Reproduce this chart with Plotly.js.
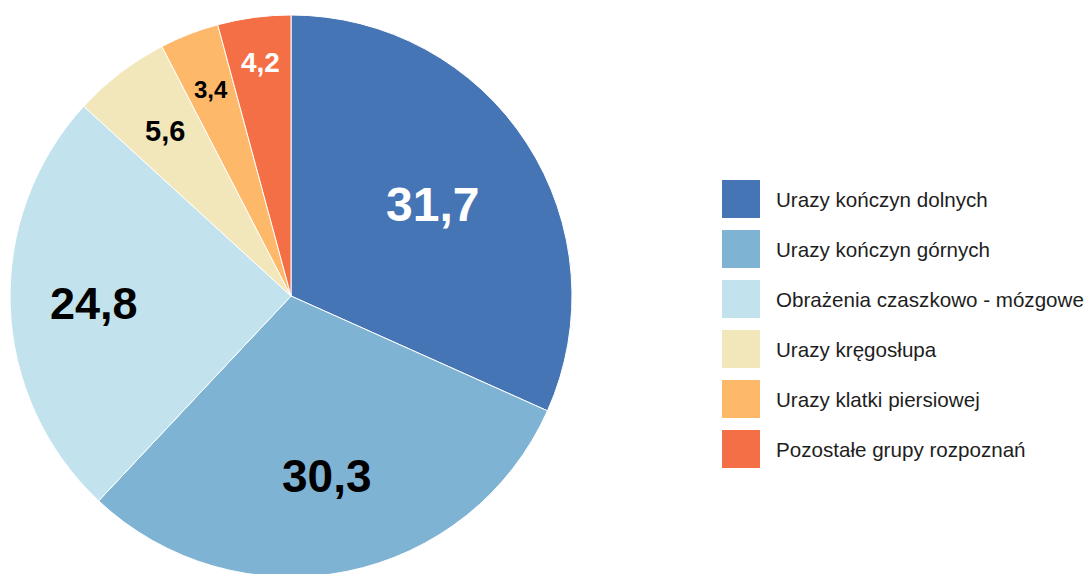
<!DOCTYPE html>
<html>
<head>
<meta charset="utf-8">
<script src="https://cdn.plot.ly/plotly-3.0.1.min.js"></script>
<style>
html,body{margin:0;padding:0;overflow:hidden;background:#fff;}
#chart{width:1090px;height:580px;}
</style>
</head>
<body>
<div id="chart"></div>
<script>
const categories = [
  "Urazy kończyn dolnych",
  "Urazy kończyn górnych",
  "Obrażenia czaszkowo - mózgowe",
  "Urazy kręgosłupa",
  "Urazy klatki piersiowej",
  "Pozostałe grupy rozpoznań"
];
const values = [31.7, 30.3, 24.8, 5.6, 3.4, 4.2];
const valueLabels = ["31,7", "30,3", "24,8", "5,6", "3,4", "4,2"];
const colors = ["#4675b5", "#7fb3d4", "#c2e3ee", "#f2e6bb", "#fdb86a", "#f46f45"];
const labelColors = ["#ffffff", "#000000", "#000000", "#000000", "#000000", "#ffffff"];
const labelSizes = [48, 46, 45, 29, 24, 28];
const labelRadius = [0.598, 0.655, 0.702, 0.738, 0.79, 0.838];

const W = 1090, H = 580;
const M = {l: 0, r: 0, t: 15, b: 3};
const domX = [10 / W, 572 / W];
const trace = {
  type: "pie",
  labels: categories,
  values: values,
  text: valueLabels,
  textinfo: "none",
  sort: false,
  direction: "clockwise",
  rotation: 0,
  marker: {colors: colors, line: {color: "#ffffff", width: 1}},
  hoverinfo: "label+text",
  showlegend: false,
  domain: {x: domX, y: [0, 1]}
};

const plotW = W - M.l - M.r, plotH = H - M.t - M.b;
const toPaperX = px => (px - M.l) / plotW;
const toPaperY = py => 1 - (py - M.t) / plotH;

const shapes = [], annotations = [];

// value labels placed at each slice's mid-angle (computed from the data)
const cx = M.l + plotW * (domX[0] + domX[1]) / 2;
const R = Math.min(plotW * (domX[1] - domX[0]), plotH) / 2;
const cy = M.t + plotH / 2;
const total = values.reduce((a, b) => a + b, 0);
let cum = 0;
values.forEach((v, i) => {
  const mid = (cum + v / 2) / total * 2 * Math.PI;
  cum += v;
  const px = cx + Math.sin(mid) * R * labelRadius[i];
  const py = cy - Math.cos(mid) * R * labelRadius[i];
  annotations.push({xref: "paper", yref: "paper", x: toPaperX(px), y: toPaperY(py),
    xanchor: "center", yanchor: "middle", showarrow: false, text: "<b>" + valueLabels[i] + "</b>",
    yshift: 0,
    font: {family: "Liberation Sans, Arial, sans-serif", size: labelSizes[i], color: labelColors[i]}});
});

// custom legend built from the category and colour arrays
const legX0 = 722, sq = 38, legY0 = 180, step = 50;
categories.forEach((c, i) => {
  const top = legY0 + i * step;
  shapes.push({type: "rect", xref: "paper", yref: "paper",
    x0: toPaperX(legX0), x1: toPaperX(legX0 + sq),
    y0: toPaperY(top + sq), y1: toPaperY(top),
    fillcolor: colors[i], line: {width: 0}});
  annotations.push({xref: "paper", yref: "paper", x: toPaperX(774), y: toPaperY(top + sq / 2),
    xanchor: "left", yanchor: "middle", showarrow: false, text: c,
    font: {family: "Liberation Sans, Arial, sans-serif", size: 20.6, color: "#1e1e1e"}});
});

const layout = {
  width: W, height: H,
  margin: M,
  paper_bgcolor: "#ffffff",
  shapes: shapes, annotations: annotations,
  showlegend: false
};
Plotly.newPlot("chart", [trace], layout, {displayModeBar: false, staticPlot: true});
</script>
</body>
</html>
